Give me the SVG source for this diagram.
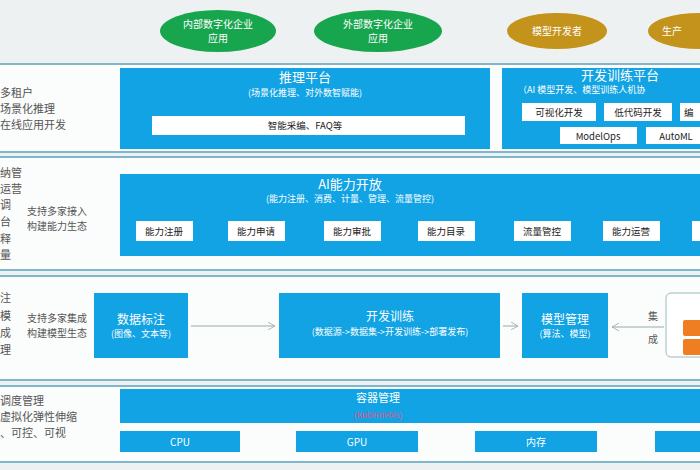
<svg xmlns="http://www.w3.org/2000/svg" width="700" height="470" viewBox="0 0 700 470">
<style>
text{font-family:"Noto Sans CJK SC","Liberation Sans",sans-serif;}
.band{fill:#fbfcfc;stroke:#7fb6ca;stroke-width:2}
.blue{fill:#11a3e4}
.wb{fill:#fff}
.t{fill:#fff;font-size:13px;text-anchor:middle}
.e{fill:#fff;font-size:10px;text-anchor:middle}
.m{fill:#fff;font-size:12px;text-anchor:middle}
.s{fill:#fff;font-size:9px;text-anchor:middle}
.k{fill:#222;font-size:9.5px;text-anchor:middle}
.l{fill:#555;font-size:11px}
.l2{fill:#555;font-size:10px}
.ar{stroke:#9aa;stroke-width:1;fill:none}
</style>
<defs><marker id="a" viewBox="0 0 10 10" refX="9" refY="5" markerWidth="8" markerHeight="8" orient="auto"><path d="M0,0L9,5L0,10" fill="none" stroke="#9aa"/></marker></defs>
<rect width="700" height="470" fill="#eef1f1"/>
<g id="top">
<ellipse cx="218" cy="31" rx="58" ry="21" fill="#17a64e"/><text x="218" y="28" class="e">内部数字化企业</text><text x="218" y="42" class="e">应用</text>
<ellipse cx="378" cy="31" rx="64" ry="21" fill="#17a64e"/><text x="378" y="28" class="e">外部数字化企业</text><text x="378" y="42" class="e">应用</text>
<ellipse cx="557" cy="31" rx="50" ry="18" fill="#c4931b"/><text x="557" y="35" class="e">模型开发者</text>
<ellipse cx="700" cy="31" rx="52" ry="18" fill="#c4931b"/><text x="662" y="35" class="e" style="text-anchor:start">生产</text>
</g>
<rect x="-5" y="64" width="715" height="88" class="band"/>
<rect x="-5" y="157" width="715" height="113" class="band"/>
<rect x="-5" y="276" width="715" height="104" class="band"/>
<rect x="-5" y="386" width="715" height="76" class="band"/>
<g id="b1">
<text x="0" y="97" class="l">多租户</text><text x="0" y="113" class="l">场景化推理</text><text x="0" y="129" class="l">在线应用开发</text>
<rect x="120" y="68" width="370" height="81" class="blue"/>
<text x="305" y="82" class="t">推理平台</text><text x="305" y="96" class="s">(场景化推理、对外数智赋能)</text>
<rect x="152" y="116" width="313" height="19" class="wb"/><text x="305" y="129" class="k">智能采编、FAQ等</text>
</g>
<g id="b2">
<rect x="502" y="68" width="205" height="81" class="blue"/>
<text x="620" y="80" class="t">开发训练平台</text><text x="518" y="93" class="s" style="text-anchor:start">（AI 模型开发、模型训练人机协</text>
<rect x="522" y="103" width="74" height="18" class="wb"/><text x="559" y="116" class="k">可视化开发</text>
<rect x="604" y="103" width="68" height="18" class="wb"/><text x="638" y="116" class="k">低代码开发</text>
<rect x="680" y="103" width="30" height="18" class="wb"/><text x="684" y="116" class="k" style="text-anchor:start">编</text>
<rect x="560" y="127" width="77" height="17" class="wb"/><text x="598" y="140" class="k">ModelOps</text>
<rect x="646" y="127" width="60" height="17" class="wb"/><text x="676" y="140" class="k">AutoML</text>
</g>
<g id="b3">
<text x="0" y="177" class="l">纳管</text><text x="0" y="193" class="l">运营</text><text x="0" y="209" class="l">调</text><text x="0" y="226" class="l">台</text><text x="0" y="243" class="l">释</text><text x="0" y="259" class="l">量</text>
<text x="27" y="215" class="l2">支持多家接入</text><text x="27" y="230" class="l2">构建能力生态</text>
<rect x="120" y="174" width="590" height="82" class="blue"/>
<text x="350" y="189" class="t">AI能力开放</text><text x="350" y="202" class="s">(能力注册、消费、计量、管理、流量管控)</text>
<rect x="136" y="221" width="57" height="20" class="wb"/><text x="164" y="235" class="k">能力注册</text>
<rect x="228" y="221" width="57" height="20" class="wb"/><text x="256" y="235" class="k">能力申请</text>
<rect x="324" y="221" width="57" height="20" class="wb"/><text x="352" y="235" class="k">能力审批</text>
<rect x="418" y="221" width="57" height="20" class="wb"/><text x="446" y="235" class="k">能力目录</text>
<rect x="514" y="221" width="57" height="20" class="wb"/><text x="542" y="235" class="k">流量管控</text>
<rect x="603" y="221" width="57" height="20" class="wb"/><text x="631" y="235" class="k">能力运营</text>
<rect x="692" y="221" width="20" height="20" class="wb"/>
</g>
<g id="b4">
<text x="0" y="302" class="l">注</text><text x="0" y="320" class="l">模</text><text x="0" y="337" class="l">成</text><text x="0" y="354" class="l">理</text>
<text x="27" y="322" class="l2">支持多家集成</text><text x="27" y="337" class="l2">构建模型生态</text>
<rect x="94" y="293" width="94" height="65" class="blue"/><text x="141" y="324" class="m">数据标注</text><text x="141" y="337" class="s">(图像、文本等)</text>
<rect x="279" y="293" width="221" height="65" class="blue"/><text x="390" y="321" class="m">开发训练</text><text x="390" y="335" class="s">(数据源-&gt;数据集-&gt;开发训练-&gt;部署发布)</text>
<rect x="522" y="293" width="86" height="65" class="blue"/><text x="565" y="324" class="m">模型管理</text><text x="565" y="337" class="s">(算法、模型)</text>
<rect x="666" y="293" width="50" height="64" rx="5" fill="#fff" stroke="#9bb"/>
<rect x="683" y="320" width="22" height="16" rx="2" fill="#ef7d22"/><rect x="683" y="339" width="22" height="16" rx="2" fill="#ef7d22"/>
<text x="648" y="320" class="l2">集</text><text x="648" y="343" class="l2">成</text>
</g>
<g id="b5">
<text x="0" y="405" class="l">调度管理</text><text x="0" y="421" class="l">虚拟化弹性伸缩</text><text x="0" y="437" class="l">、可控、可视</text>
<rect x="120" y="389" width="590" height="34" class="blue"/>
<text x="378" y="402" class="e" style="font-size:11px">容器管理</text><text x="378" y="418" font-size="8" text-anchor="middle" fill="#e8508a">(Kubernetes)</text>
<rect x="120" y="431" width="120" height="21" class="blue"/><text x="180" y="446" class="e">CPU</text>
<rect x="296" y="431" width="122" height="21" class="blue"/><text x="357" y="446" class="e">GPU</text>
<rect x="475" y="431" width="122" height="21" class="blue"/><text x="536" y="446" class="e">内存</text>
<rect x="655" y="431" width="55" height="21" class="blue"/>
</g>
<g id="connectors">
<line x1="191" y1="326" x2="275" y2="326" class="ar" marker-end="url(#a)"/>
<line x1="503" y1="326" x2="518" y2="326" class="ar" marker-end="url(#a)"/>
<line x1="664" y1="327" x2="612" y2="327" class="ar" marker-end="url(#a)"/>
</g>
</svg>
